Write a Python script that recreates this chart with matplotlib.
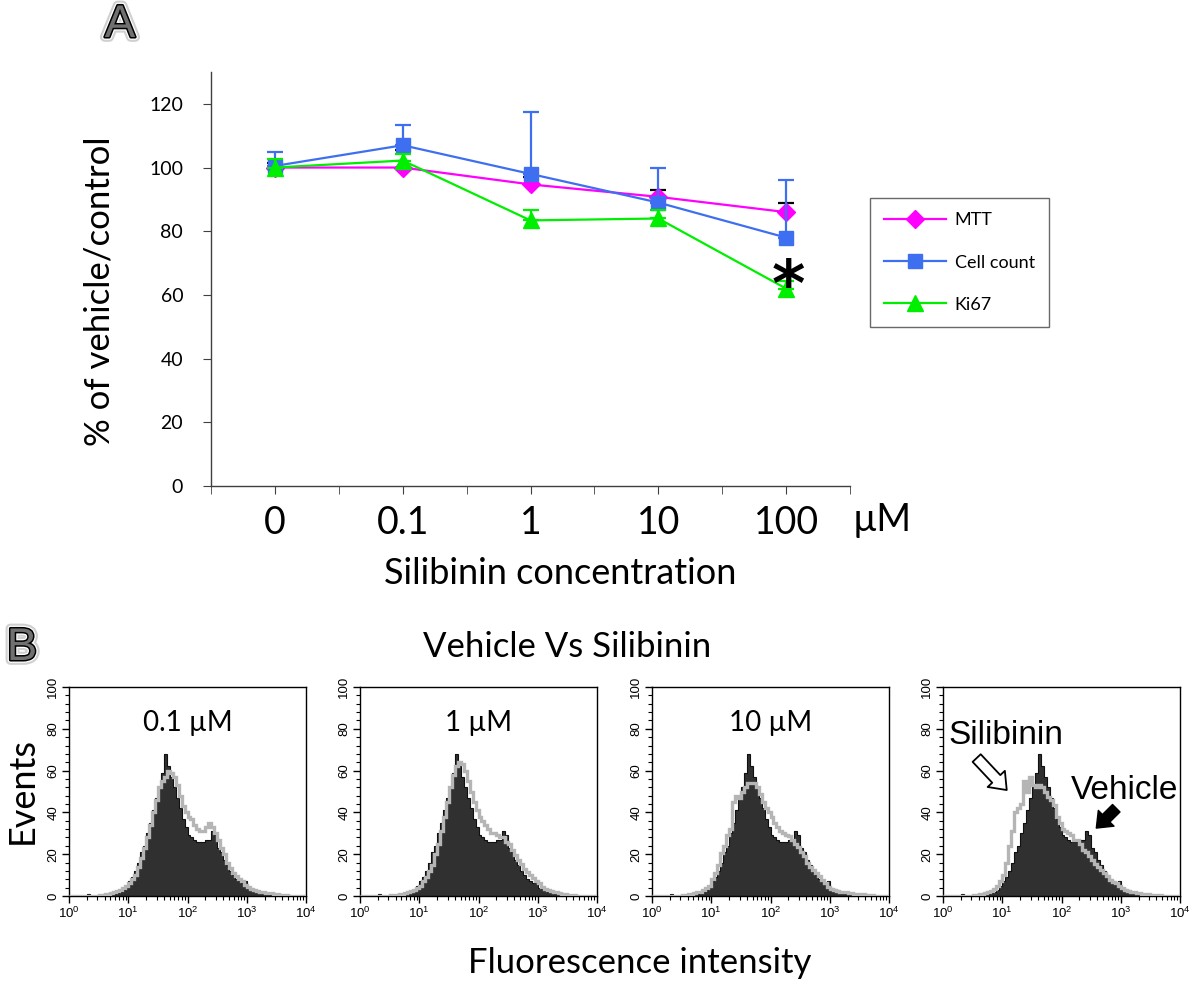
import matplotlib
matplotlib.use('Agg')
import numpy as np
import matplotlib.pyplot as plt
from matplotlib.ticker import MultipleLocator, LogLocator, NullFormatter
import matplotlib.patheffects as pe

plt.rcParams['font.family'] = ['Lato', 'DejaVu Sans']

# ---- panel A data ----
conc_labels = ['0', '0.1', '1', '10', '100']
mtt = [100, 100, 94.7, 90.8, 86]
mtt_err = [1.5, 5.5, 2.3, 2, 2.8]
cell_count = [100.5, 107, 98, 89, 78]
cell_err = [4.5, 6.5, 19.5, 11, 18]
ki67 = [100, 102.2, 83.4, 84, 62]
ki67_err = [2.8, 2, 3.3, 2.7, 2.3]

# ---- panel B data (events per 0.05-decade channel, 10^0 .. 10^4) ----
vehicle = [0, 0, 0, 0, 0, 0, 1, 0, 0, 0,
           0, 0, 0.5, 0.5, 1, 1, 1.5, 2, 3, 5,
           7, 9, 12, 16, 21, 24, 30, 35, 41, 47,
           52, 59, 68, 62, 57, 52, 47, 42, 37, 33,
           29, 28, 27, 26, 26, 26, 27, 27, 31, 29,
           23, 21, 17, 15, 12, 10, 8, 7, 6, 7,
           4, 3.5, 3, 2, 2, 1.5, 1, 1, 0.5, 0.5,
           0.5, 0.3, 0, 0, 0, 0, 0, 0, 0, 0]
sil_01 = [0, 0, 0, 0, 0, 0, 0, 0, 0, 0,
          0.5, 0.5, 1, 1, 1.5, 2, 2.5, 3, 4, 5,
          6, 8, 10, 14, 18, 23, 28, 34, 40, 46,
          52, 55, 57, 60, 59, 57, 53, 48, 43, 40,
          38, 37, 34, 32, 31, 31, 33, 35, 33, 30,
          27, 23, 20, 16, 13.5, 11, 9.5, 8, 7, 5.5,
          4.5, 3.5, 2.7, 2.3, 2, 1.8, 1.5, 1.3, 1.2, 1,
          0.8, 0.6, 0.5, 0.3, 0.2, 0, 0, 0, 0, 0]
sil_1 = [0, 0, 0, 0, 0, 0, 0, 0, 0, 0,
         0.5, 0.5, 0.5, 1, 1, 1.5, 2, 2.5, 3, 4,
         5, 7, 9, 12, 15, 20, 25, 31, 38, 45,
         52, 58, 62, 64, 63, 60, 55, 50, 45, 41,
         38, 36, 34, 32, 30, 30, 29, 28, 28, 26,
         25, 22, 19.5, 17, 15.5, 13, 11.5, 10, 8.5, 7,
         6, 4.5, 3.5, 2.8, 2.2, 2, 1.7, 1.3, 1, 0.8,
         0.6, 0.5, 0.3, 0.2, 0, 0, 0, 0, 0, 0]
sil_10 = [0, 0, 0, 0, 0, 0, 0, 0, 0, 0,
          0.5, 0.5, 1, 1, 1.5, 2, 2, 3, 4, 5,
          8, 11, 15, 20.5, 24, 29, 32, 45, 48, 47,
          50, 52, 54, 54, 54, 52, 49, 45, 42, 40,
          38, 35, 33, 31, 30, 29, 28.5, 27, 25, 23.5,
          21, 19, 16, 14, 12.5, 11, 9.5, 7.7, 6, 4.5,
          3.5, 3, 2.5, 2, 2, 1.8, 1.5, 1.2, 1, 1,
          1, 0.8, 0.5, 0.5, 0.3, 0, 0, 0, 0, 0]
sil_100 = [0, 0, 0, 0, 0, 0, 0, 0, 0, 0,
           0.5, 0.5, 1, 1, 1.5, 2, 2.5, 3.5, 5, 7,
           10, 16, 24, 31, 40, 42, 44, 55, 50, 57,
           53, 52, 53, 52, 50, 47.5, 46, 43.5, 38, 35,
           32, 31, 30, 29, 27, 27, 25, 22, 21, 19,
           17, 15.5, 14, 12.5, 11, 9.5, 7.7, 6.5, 6, 5,
           3.8, 3, 2.2, 2, 1.7, 1.5, 1.2, 1, 1, 0.8,
           0.6, 0.5, 0.4, 0.3, 0, 0, 0, 0, 0, 0]
hist_labels = ['0.1 µM', '1 µM', '10 µM', '']
sil_series = [sil_01, sil_1, sil_10, sil_100]

W, H = 1200, 981
fig = plt.figure(figsize=(12, 9.81), dpi=100)


def fx(px):
    return px / W


def fy(py):
    return 1 - py / H


def panel_letter(s, x, y):
    t = fig.text(fx(x), fy(y), s, fontsize=33, color='#707070', ha='center', va='center',
                 family=['Liberation Sans'])
    t.set_path_effects([pe.Stroke(linewidth=7, foreground='#d0d0d0'),
                        pe.Stroke(linewidth=4, foreground='white'),
                        pe.Stroke(linewidth=2.2, foreground='black'),
                        pe.Normal()])


# ================= panel A =================
ax = fig.add_axes([fx(211), fy(486), fx(850) - fx(211), fy(72) - fy(486)])
x = np.arange(len(conc_labels))
zero = np.zeros(len(x))

e1 = ax.errorbar(x, mtt, yerr=[zero, mtt_err], color='#ff00ff', marker='D', ms=9,
                 lw=1.6, ecolor='black', elinewidth=1.6, capsize=6, capthick=1.6, zorder=3)
e2 = ax.errorbar(x, cell_count, yerr=[zero, cell_err], color='#3d6ff0', marker='s', ms=10,
                 lw=1.6, ecolor='#3d6ff0', elinewidth=1.6, capsize=6, capthick=1.6, zorder=4)
e3 = ax.errorbar(x, ki67, yerr=[zero, ki67_err], color='#00ee00', marker='^', ms=11,
                 lw=1.6, ecolor='#00ee00', elinewidth=1.6, capsize=6, capthick=1.6, zorder=5)

ax.text(4.02, 56.6, '*', fontsize=46, fontweight='bold', ha='center', va='baseline',
        family=['DejaVu Sans'], zorder=6)

ax.set_xlim(-0.5, 4.5)
ax.set_ylim(0, 130)
ax.spines['top'].set_visible(False)
ax.spines['right'].set_visible(False)
for s in ['left', 'bottom']:
    ax.spines[s].set_color('#404040')
    ax.spines[s].set_linewidth(1.0)
ax.set_yticks(range(0, 121, 20))
ax.set_xticks(x)
ax.set_xticklabels(conc_labels)
ax.set_xticks(np.arange(-0.5, 5, 1), minor=True)
ax.tick_params(axis='x', which='both', length=6, direction='out', color='#404040',
               labelsize=27, pad=8)
ax.tick_params(axis='y', length=6, direction='out', color='#404040', labelsize=14, pad=14)
ax.set_ylabel('% of vehicle/control', fontsize=25)
ax.yaxis.set_label_coords(-0.15, 0.47)

fig.text(fx(882), fy(520), 'µM', fontsize=27, ha='center', va='center')
fig.text(fx(560), fy(573), 'Silibinin concentration', fontsize=26, ha='center', va='center')

leg = fig.legend([e1[0], e2[0], e3[0]], ['MTT', 'Cell count', 'Ki67'],
                 loc='upper left', bbox_to_anchor=(fx(870), fy(198)), fontsize=13,
                 frameon=True, fancybox=False, edgecolor='#444444', handlelength=3.4,
                 labelspacing=1.45, borderpad=0.8, handletextpad=0.5, borderaxespad=0)
leg.get_frame().set_linewidth(1.0)

panel_letter('A', 120, 25)

# ================= panel B =================
panel_letter('B', 22, 648)
fig.text(fx(567), fy(647), 'Vehicle Vs Silibinin', fontsize=25, ha='center', va='center')
fig.text(fx(22), fy(790), 'Events', fontsize=26, ha='center', va='center', rotation=90)
fig.text(fx(640), fy(963), 'Fluorescence intensity', fontsize=25, ha='center', va='center')

edges = 10 ** (np.arange(len(vehicle) + 1) * 0.05)
lefts = [69, 360, 652, 943]
axes_b = []
for i, left in enumerate(lefts):
    axh = fig.add_axes([fx(left), fy(896), 237 / W, fy(687) - fy(896)])
    axes_b.append(axh)
    axh.stairs(vehicle, edges, fill=True, color='#303030', zorder=2)
    axh.stairs(vehicle, edges, color='#101010', lw=0.8, zorder=2)
    axh.stairs(sil_series[i], edges, color='#b5b5b5', lw=2.4, zorder=3)
    axh.set_xscale('log')
    axh.set_xlim(1, 1e4)
    axh.set_ylim(0, 100)
    axh.xaxis.set_major_locator(LogLocator(base=10, numticks=10))
    axh.xaxis.set_minor_locator(LogLocator(base=10, subs=np.arange(2, 10), numticks=10))
    axh.xaxis.set_minor_formatter(NullFormatter())
    axh.yaxis.set_major_locator(MultipleLocator(20))
    axh.yaxis.set_minor_locator(MultipleLocator(4))
    axh.tick_params(which='major', length=5, width=1, direction='out', labelsize=9.5, pad=2)
    axh.tick_params(which='minor', length=3, width=0.8, direction='out')
    for lab in axh.get_yticklabels():
        lab.set_rotation(90)
        lab.set_va('center')
        lab.set_family(['Liberation Sans'])
    for lab in axh.get_xticklabels():
        lab.set_family(['Liberation Sans'])
    for s in axh.spines.values():
        s.set_linewidth(1.0)
    if hist_labels[i]:
        axh.text(0.5, 0.83, hist_labels[i], transform=axh.transAxes, fontsize=20,
                 ha='center', va='center')

ax4 = axes_b[3]
ax4.text(11.5, 77, 'Silibinin', fontsize=24, ha='center', va='center',
         family=['Liberation Sans'], zorder=5)
ax4.text(1148, 50.7, 'Vehicle', fontsize=24, ha='center', va='center',
         family=['Liberation Sans'], zorder=5, clip_on=False)
ax4.annotate('', xy=(11.9, 50.7), xytext=(3.7, 66),
             arrowprops=dict(arrowstyle='simple,head_length=0.55,head_width=0.85,tail_width=0.4',
                             mutation_scale=20, fc='white', ec='black', lw=1.3,
                             shrinkA=0, shrinkB=0), zorder=5)
ax4.annotate('', xy=(387, 32.5), xytext=(840, 42),
             arrowprops=dict(arrowstyle='simple,head_length=0.5,head_width=0.8,tail_width=0.38',
                             mutation_scale=20, fc='black', ec='black', lw=1,
                             shrinkA=0, shrinkB=0), zorder=5)

fig.savefig('out.png', dpi=100)
